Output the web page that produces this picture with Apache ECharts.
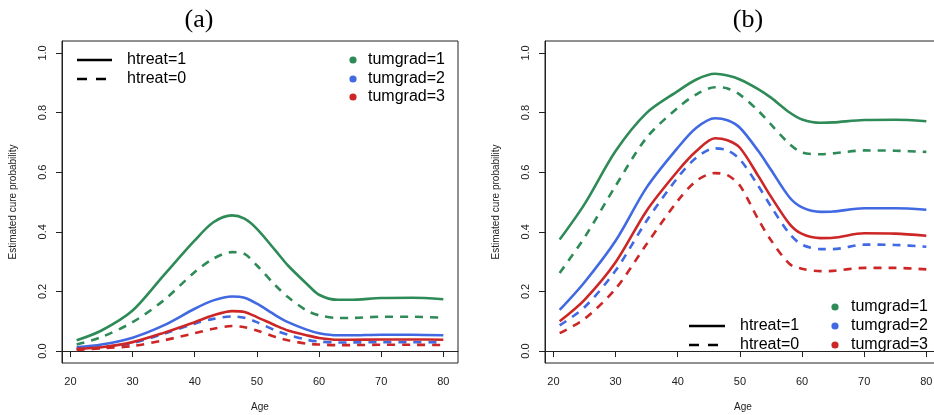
<!DOCTYPE html>
<html>
<head>
<meta charset="utf-8">
<script src="https://cdn.jsdelivr.net/npm/echarts@6/dist/echarts.min.js"></script>
<style>
  html, body { margin: 0; padding: 0; background: #fff; }
  #chart { width: 934px; height: 415px; }
</style>
</head>
<body>
<div id="chart"></div>
<script>
// ages where the curves were read
var ages = [21, 25, 30, 35, 40, 43, 46, 48, 50, 53, 55, 58, 60, 63, 65, 70, 75, 80];
var xTicks = [20, 30, 40, 50, 60, 70, 80];
var yTicks = [0, 0.2, 0.4, 0.6, 0.8, 1.0];

// panel (a)
var aGrad1Treat1 = [0.036, 0.069, 0.136, 0.254, 0.371, 0.432, 0.455, 0.444, 0.410, 0.337, 0.287, 0.226, 0.189, 0.172, 0.172, 0.178, 0.179, 0.174];
var aGrad1Treat0 = [0.022, 0.047, 0.097, 0.170, 0.265, 0.310, 0.332, 0.326, 0.287, 0.220, 0.181, 0.136, 0.120, 0.111, 0.111, 0.115, 0.115, 0.112];
var aGrad2Treat1 = [0.013, 0.022, 0.045, 0.086, 0.142, 0.170, 0.183, 0.179, 0.159, 0.120, 0.097, 0.072, 0.060, 0.053, 0.053, 0.055, 0.055, 0.053];
var aGrad2Treat0 = [0.007, 0.013, 0.027, 0.058, 0.092, 0.108, 0.116, 0.112, 0.097, 0.069, 0.055, 0.038, 0.032, 0.029, 0.029, 0.030, 0.030, 0.029];
var aGrad3Treat1 = [0.008, 0.013, 0.030, 0.061, 0.097, 0.120, 0.134, 0.131, 0.114, 0.086, 0.069, 0.053, 0.044, 0.038, 0.038, 0.039, 0.039, 0.038];
var aGrad3Treat0 = [0.004, 0.009, 0.017, 0.036, 0.060, 0.075, 0.084, 0.080, 0.069, 0.047, 0.036, 0.025, 0.022, 0.020, 0.020, 0.021, 0.021, 0.020];

// panel (b)
var bGrad1Treat1 = [0.374, 0.493, 0.671, 0.799, 0.872, 0.911, 0.930, 0.924, 0.911, 0.878, 0.850, 0.800, 0.777, 0.766, 0.767, 0.775, 0.776, 0.771];
var bGrad1Treat0 = [0.262, 0.381, 0.554, 0.716, 0.816, 0.861, 0.885, 0.881, 0.860, 0.805, 0.760, 0.694, 0.666, 0.660, 0.663, 0.673, 0.672, 0.668];
var bGrad2Treat1 = [0.138, 0.231, 0.370, 0.549, 0.682, 0.749, 0.781, 0.774, 0.749, 0.670, 0.608, 0.515, 0.482, 0.467, 0.468, 0.479, 0.479, 0.474];
var bGrad2Treat0 = [0.086, 0.147, 0.270, 0.437, 0.582, 0.649, 0.680, 0.673, 0.643, 0.553, 0.485, 0.393, 0.357, 0.342, 0.342, 0.357, 0.356, 0.350];
var bGrad3Treat1 = [0.100, 0.172, 0.298, 0.471, 0.604, 0.671, 0.714, 0.707, 0.682, 0.586, 0.518, 0.426, 0.393, 0.379, 0.380, 0.395, 0.394, 0.387];
var bGrad3Treat0 = [0.060, 0.108, 0.209, 0.359, 0.504, 0.571, 0.597, 0.590, 0.555, 0.440, 0.372, 0.292, 0.276, 0.268, 0.269, 0.279, 0.279, 0.274];

var GREEN = '#2E8B57', BLUE = '#4169E1', RED = '#CD2626';
var DASH = [8, 7];

(function(){
    var myChart = echarts.init(document.getElementById('chart'));

    function pairs(vals) {
        return ages.map(function(a, i){ return [a, vals[i]]; });
    }
    function curve(panel, vals, color, dashed) {
        return {
            type: 'line',
            xAxisIndex: panel,
            yAxisIndex: panel,
            data: pairs(vals),
            smooth: 0.3,
            showSymbol: false,
            silent: true,
            lineStyle: { color: color, width: 2.6, type: dashed ? DASH : 'solid' }
        };
    }
    function xAx(idx) {
        return {
            type: 'value', gridIndex: idx, min: 18.64, max: 82.36,
            name: 'Age', nameLocation: 'middle', nameGap: 39,
            nameTextStyle: { fontFamily: 'Liberation Sans', fontSize: 10, color: '#222' },
            axisLine: { show: true, lineStyle: { color: '#222', width: 1 } },
            axisTick: { show: true, length: 6, customValues: xTicks, lineStyle: { color: '#222' } },
            axisLabel: { customValues: xTicks, margin: 13, fontFamily: 'Liberation Sans', fontSize: 11, color: '#222' },
            splitLine: { show: false }
        };
    }
    function yAx(idx) {
        return {
            type: 'value', gridIndex: idx, min: -0.04, max: 1.04,
            name: 'Estimated cure probability', nameLocation: 'middle', nameGap: 44, nameRotate: 90,
            nameTextStyle: { fontFamily: 'Liberation Sans', fontSize: 10, color: '#222' },
            axisLine: { show: true, lineStyle: { color: '#222', width: 1 } },
            axisTick: { show: true, length: 6, customValues: yTicks, lineStyle: { color: '#222' } },
            axisLabel: {
                customValues: yTicks, rotate: 90, margin: 14,
                fontFamily: 'Liberation Sans', fontSize: 11, color: '#222',
                formatter: function(v){ return v.toFixed(1); }
            },
            splitLine: { show: false }
        };
    }

    var font16 = '16px "Liberation Sans"';
    function legendLines(x0, x1, y0, y1, tx) {
        return [
            { type: 'line', shape: { x1: x0, y1: y0, x2: x1, y2: y0 }, style: { stroke: '#000', lineWidth: 2.6 } },
            { type: 'line', shape: { x1: x0, y1: y1, x2: x1, y2: y1 }, style: { stroke: '#000', lineWidth: 2.6, lineDash: [10, 9] } },
            { type: 'text', x: tx, y: y0, style: { text: 'htreat=1', font: font16, fill: '#000', verticalAlign: 'middle' } },
            { type: 'text', x: tx, y: y1, style: { text: 'htreat=0', font: font16, fill: '#000', verticalAlign: 'middle' } }
        ];
    }
    function legendDots(cx, tx, ys) {
        var cols = [GREEN, BLUE, RED], out = [];
        for (var i = 0; i < 3; i++) {
            out.push({ type: 'circle', shape: { cx: cx, cy: ys[i], r: 3.6 }, style: { fill: cols[i] } });
            out.push({ type: 'text', x: tx, y: ys[i], style: { text: 'tumgrad=' + (i + 1), font: font16, fill: '#000', verticalAlign: 'middle' } });
        }
        return out;
    }

    var option = {
        backgroundColor: '#fff',
        animation: false,
        grid: [
            { left: 62, top: 41, width: 396, height: 322, outerBoundsMode: 'none', containLabel: false, show: true, borderColor: '#222', borderWidth: 1 },
            { left: 545, top: 41, width: 396, height: 322, outerBoundsMode: 'none', containLabel: false, show: true, borderColor: '#222', borderWidth: 1 }
        ],
        xAxis: [xAx(0), xAx(1)],
        yAxis: [yAx(0), yAx(1)],
        graphic: [].concat(
            [
                { type: 'text', x: 199, y: 20, style: { text: '(a)', font: '26px "Liberation Serif"', fill: '#000', align: 'center', verticalAlign: 'middle' } },
                { type: 'text', x: 748, y: 20, style: { text: '(b)', font: '26px "Liberation Serif"', fill: '#000', align: 'center', verticalAlign: 'middle' } }
            ],
            legendLines(77, 112, 60, 79, 127),
            legendDots(353, 368, [60, 79, 97]),
            legendLines(689, 725, 326, 345, 740),
            legendDots(835, 851, [307, 326, 345])
        ),
        series: [
            curve(0, aGrad1Treat1, GREEN, false),
            curve(0, aGrad1Treat0, GREEN, true),
            curve(0, aGrad2Treat1, BLUE, false),
            curve(0, aGrad2Treat0, BLUE, true),
            curve(0, aGrad3Treat1, RED, false),
            curve(0, aGrad3Treat0, RED, true),
            curve(1, bGrad1Treat1, GREEN, false),
            curve(1, bGrad1Treat0, GREEN, true),
            curve(1, bGrad2Treat1, BLUE, false),
            curve(1, bGrad2Treat0, BLUE, true),
            curve(1, bGrad3Treat1, RED, false),
            curve(1, bGrad3Treat0, RED, true)
        ]
    };
    myChart.setOption(option);
    window.addEventListener("resize", function(){
        myChart.resize();
    });
})();
</script>
</body>
</html>
